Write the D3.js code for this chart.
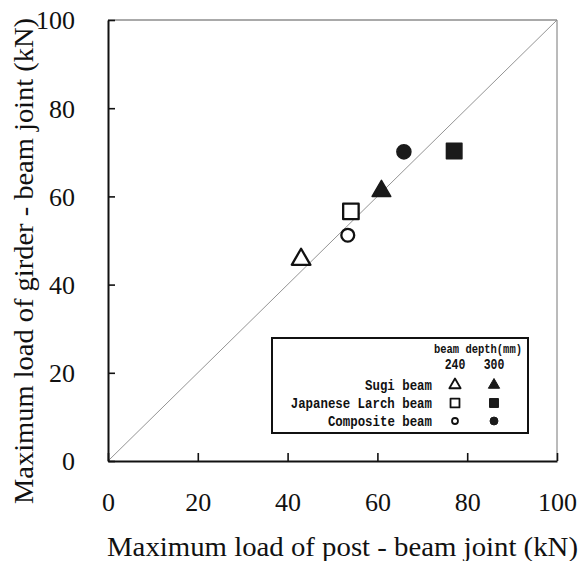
<!DOCTYPE html>
<html>
<head>
<meta charset="utf-8">
<script src="https://cdn.jsdelivr.net/npm/d3@7"></script>
<style>
  body { margin: 0; background: #fff; }
  svg text.serif { font-family: "Liberation Serif", "Times New Roman", Times, "DejaVu Serif", serif; }
</style>
</head>
<body>
<div id="chart"></div>
<script>
// data
var beamTypes = ["Sugi beam", "Japanese Larch beam", "Composite beam"];
var depths = ["240", "300"];
var postLoad240 = [43.0, 54.1, 53.4];
var girderLoad240 = [45.7, 56.6, 51.2];
var postLoad300 = [60.9, 77.1, 65.9];
var girderLoad300 = [61.2, 70.3, 70.1];
var tickValues = [0, 20, 40, 60, 80, 100];

var svgWidth = 581;
var svgHeight = 561;
var margin = { top: 20, right: 24, bottom: 100, left: 108 };
var width = 557 - margin.left;
var height = 461 - margin.top;

var svg = d3.select("#chart")
  .append("svg")
  .attr("width", svgWidth)
  .attr("height", svgHeight);

var chartGroup = svg.append("g")
  .attr("transform", `translate(${margin.left}, ${margin.top})`);

var xScale = d3.scaleLinear().domain([0, 100]).range([0, width]);
var yScale = d3.scaleLinear().domain([0, 100]).range([height, 0]);

// frame: top/right thin grey, left/bottom black
chartGroup.append("line")
  .attr("x1", 0).attr("y1", 0).attr("x2", width).attr("y2", 0)
  .attr("stroke", "#555").attr("stroke-width", 1);
chartGroup.append("line")
  .attr("x1", width).attr("y1", 0).attr("x2", width).attr("y2", height)
  .attr("stroke", "#777").attr("stroke-width", 1);

// 1:1 line
chartGroup.append("line")
  .attr("x1", xScale(0)).attr("y1", yScale(0))
  .attr("x2", xScale(100)).attr("y2", yScale(100))
  .attr("stroke", "#888").attr("stroke-width", 0.9);

var bottomAxis = d3.axisBottom(xScale).tickValues(tickValues)
  .tickSizeInner(-8).tickSizeOuter(0);
var leftAxis = d3.axisLeft(yScale).tickValues(tickValues)
  .tickSizeInner(-7).tickSizeOuter(0);

var xAxisG = chartGroup.append("g")
  .attr("transform", `translate(0, ${height})`)
  .call(bottomAxis);
var yAxisG = chartGroup.append("g").call(leftAxis);

[xAxisG, yAxisG].forEach(function(g) {
  g.attr("font-size", 26);
  g.select(".domain").attr("stroke", "#111").attr("stroke-width", 2);
  g.selectAll(".tick line").attr("stroke", "#111").attr("stroke-width", 1.6);
  g.selectAll(".tick text").attr("class", "serif").attr("fill", "#111");
});
xAxisG.selectAll(".tick text").attr("y", 50).attr("dy", null);
yAxisG.selectAll(".tick text").attr("x", -33).attr("dy", "0.34em");

// axis titles
svg.append("text")
  .attr("class", "serif")
  .attr("x", 107)
  .attr("y", 556)
  .attr("textLength", 471)
  .attr("lengthAdjust", "spacingAndGlyphs")
  .attr("fill", "#111")
  .attr("font-size", 28)
  .text("Maximum load of post - beam joint (kN)");

svg.append("text")
  .attr("class", "serif")
  .attr("transform", "translate(33, 504) rotate(-90)")
  .attr("textLength", 486)
  .attr("lengthAdjust", "spacingAndGlyphs")
  .attr("fill", "#111")
  .attr("font-size", 28)
  .text("Maximum load of girder - beam joint (kN)");

// markers
var symbolTypes = [d3.symbolTriangle, d3.symbolSquare, d3.symbolCircle];
var bigSizes = [150, 240, 130];
var bigSizesFilled = [150, 240, 155];

var pts240 = beamTypes.map(function(b, i) {
  return { i: i, x: postLoad240[i], y: girderLoad240[i] };
});
var pts300 = beamTypes.map(function(b, i) {
  return { i: i, x: postLoad300[i], y: girderLoad300[i] };
});

chartGroup.selectAll(".open")
  .data(pts240)
  .enter()
  .append("path")
  .attr("class", "open")
  .attr("transform", d => `translate(${xScale(d.x)}, ${yScale(d.y)})`)
  .attr("d", d => d3.symbol().type(symbolTypes[d.i]).size(bigSizes[d.i])())
  .attr("fill", "#fff")
  .attr("stroke", "#111")
  .attr("stroke-width", 2.3)
  .attr("stroke-linejoin", "round");

chartGroup.selectAll(".filled")
  .data(pts300)
  .enter()
  .append("path")
  .attr("class", "filled")
  .attr("transform", d => `translate(${xScale(d.x)}, ${yScale(d.y)})`)
  .attr("d", d => d3.symbol().type(symbolTypes[d.i]).size(bigSizesFilled[d.i])())
  .attr("fill", "#1a1a1a")
  .attr("stroke", "#1a1a1a")
  .attr("stroke-width", 1.5)
  .attr("stroke-linejoin", "round");

// legend
var legend = svg.append("g").attr("transform", "translate(272, 338)");
legend.append("rect")
  .attr("width", 256).attr("height", 95)
  .attr("fill", "#fff")
  .attr("stroke", "#111")
  .attr("stroke-width", 2);

var legendFont = "Liberation Mono, DejaVu Sans Mono, monospace";
legend.append("text")
  .attr("transform", "translate(250, 15) scale(1, 1.2)")
  .attr("text-anchor", "end")
  .attr("fill", "#111")
  .attr("font-family", legendFont)
  .attr("font-weight", "bold")
  .attr("font-size", 10.5)
  .text("beam depth(mm)");

var colX = [183, 222];
legend.selectAll(".depth")
  .data(depths)
  .enter()
  .append("text")
  .attr("class", "depth")
  .attr("transform", (d, i) => `translate(${colX[i]}, 31) scale(1, 1.2)`)
  .attr("text-anchor", "middle")
  .attr("fill", "#111")
  .attr("font-family", legendFont)
  .attr("font-weight", "bold")
  .attr("font-size", 11.5)
  .text(d => d);

var rowY = [47, 65, 83];
legend.selectAll(".lab")
  .data(beamTypes)
  .enter()
  .append("text")
  .attr("class", "lab")
  .attr("transform", (d, i) => `translate(160, ${rowY[i] + 4.5}) scale(1, 1.2)`)
  .attr("text-anchor", "end")
  .attr("fill", "#111")
  .attr("font-family", legendFont)
  .attr("font-weight", "bold")
  .attr("font-size", 12.4)
  .text(d => d);

var smallSizes = [55, 80, 28];
var smallSizesFilled = [55, 80, 50];
legend.selectAll(".lopen")
  .data(beamTypes)
  .enter()
  .append("path")
  .attr("transform", (d, i) => `translate(${colX[0]}, ${rowY[i]})`)
  .attr("d", (d, i) => d3.symbol().type(symbolTypes[i]).size(smallSizes[i])())
  .attr("fill", "#fff")
  .attr("stroke", "#111")
  .attr("stroke-width", 1.8)
  .attr("stroke-linejoin", "round");

legend.selectAll(".lfilled")
  .data(beamTypes)
  .enter()
  .append("path")
  .attr("transform", (d, i) => `translate(${colX[1]}, ${rowY[i]})`)
  .attr("d", (d, i) => d3.symbol().type(symbolTypes[i]).size(smallSizesFilled[i])())
  .attr("fill", "#1a1a1a")
  .attr("stroke", "#1a1a1a")
  .attr("stroke-width", 1)
  .attr("stroke-linejoin", "round");
</script>
</body>
</html>
